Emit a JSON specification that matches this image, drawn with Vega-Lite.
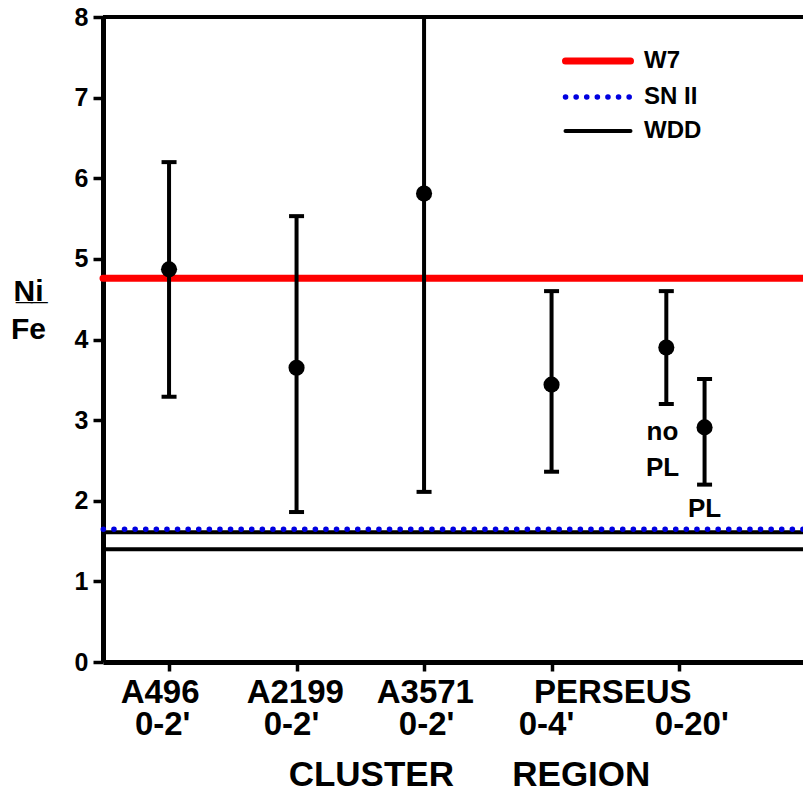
{
  "$schema": "https://vega.github.io/schema/vega-lite/v6.json",
  "width": 700,
  "height": 645,
  "autosize": {"type": "none"},
  "padding": {"left": 103, "top": 17, "right": 0, "bottom": 129},
  "background": "white",
  "config": {
    "view": {"stroke": null},
    "font": "Liberation Sans",
    "axis": {
      "domainColor": "black",
      "domainWidth": 5,
      "tickColor": "black",
      "tickWidth": 3.5,
      "tickSize": 10,
      "grid": false,
      "labelFont": "Liberation Sans",
      "labelFontWeight": "bold",
      "labelColor": "black",
      "titleFont": "Liberation Sans",
      "titleFontWeight": "bold",
      "titleColor": "black"
    }
  },
  "datasets": {
    "points": [
      {"region": "A496 0-2'", "pos": 1.0, "ratio": 4.87, "lo": 3.29, "hi": 6.2},
      {"region": "A2199 0-2'", "pos": 2.0, "ratio": 3.65, "lo": 1.86, "hi": 5.53},
      {"region": "A3571 0-2'", "pos": 3.0, "ratio": 5.81, "lo": 2.11, "hi": 8.6},
      {"region": "Perseus 0-4'", "pos": 4.0, "ratio": 3.44, "lo": 2.36, "hi": 4.6},
      {"region": "Perseus 0-20' no PL", "pos": 4.9, "ratio": 3.9, "lo": 3.2, "hi": 4.6},
      {"region": "Perseus 0-20' PL", "pos": 5.2, "ratio": 2.91, "lo": 2.2, "hi": 3.51}
    ],
    "models": [
      {"model": "W7", "ratio": 4.76},
      {"model": "WDD", "ratio": 1.4},
      {"model": "WDD", "ratio": 1.61},
      {"model": "SN II", "ratio": 1.645}
    ],
    "axislabels": [
      {"text": "A496", "pos": 0.93, "row": -0.51},
      {"text": "0-2'", "pos": 0.95, "row": -0.9},
      {"text": "A2199", "pos": 1.99, "row": -0.51},
      {"text": "0-2'", "pos": 1.96, "row": -0.9},
      {"text": "A3571", "pos": 3.01, "row": -0.51},
      {"text": "0-2'", "pos": 3.02, "row": -0.9},
      {"text": "PERSEUS", "pos": 4.48, "row": -0.51},
      {"text": "0-4'", "pos": 3.96, "row": -0.9},
      {"text": "0-20'", "pos": 5.1, "row": -0.9}
    ],
    "notes": [
      {"text": "no", "pos": 4.87, "ratio": 2.75},
      {"text": "PL", "pos": 4.87, "ratio": 2.31},
      {"text": "PL", "pos": 5.2, "ratio": 1.8}
    ]
  },
  "layer": [
    {
      "data": {"name": "models"},
      "mark": {"type": "rule", "strokeCap": "round"},
      "encoding": {
        "y": {
          "field": "ratio", "type": "quantitative",
          "scale": {"domain": [0, 8], "nice": false, "zero": true},
          "axis": {
            "values": [0, 1, 2, 3, 4, 5, 6, 7, 8],
            "format": "d",
            "labelFontSize": 25,
            "labelPadding": 5,
            "title": ["N\u0332i\u0332", "Fe"],
            "titleFontSize": 30,
            "titleAngle": 0,
            "titleAlign": "center",
            "titleBaseline": "alphabetic",
            "titleLineHeight": 38,
            "titleX": -75,
            "titleY": 283
          }
        },
        "color": {
          "field": "model", "type": "nominal",
          "scale": {"domain": ["W7", "SN II", "WDD"], "range": ["#ff0000", "#0000e0", "#000000"]},
          "legend": {
            "title": null,
            "orient": "none",
            "legendX": 483,
            "legendY": 32,
            "symbolType": "M-5,0H5",
            "symbolSize": 169,
            "labelFontSize": 24,
            "labelFontWeight": "bold",
            "labelColor": "black",
            "labelOffset": 34,
            "rowPadding": 10,
            "padding": 0,
            "encode": {"symbols": {"update": {"strokeCap": {"value": "round"}}}}
          }
        },
        "strokeDash": {
          "field": "model", "type": "nominal",
          "scale": {"domain": ["W7", "SN II", "WDD"], "range": [[1, 0], [0.1, 10.5], [1, 0]]},
          "legend": {"title": null}
        },
        "strokeWidth": {
          "field": "model", "type": "nominal",
          "scale": {"domain": ["W7", "SN II", "WDD"], "range": [7, 4, 3]},
          "legend": {"title": null}
        }
      }
    },
    {
      "data": {"values": [{"top": 8}]},
      "mark": {"type": "rule", "color": "black", "strokeWidth": 4},
      "encoding": {"y": {"field": "top", "type": "quantitative"}}
    },
    {
      "data": {"name": "points"},
      "mark": {"type": "rule", "color": "black", "strokeWidth": 4, "clip": true},
      "encoding": {
        "x": {
          "field": "pos", "type": "quantitative",
          "scale": {"domain": [0.482, 5.972], "nice": false, "zero": false},
          "axis": {
            "values": [1, 2, 3, 4, 5],
            "labels": false,
            "tickSize": 9,
            "title": "CLUSTER\u00a0\u00a0\u00a0\u00a0\u00a0\u00a0REGION",
            "titleFontSize": 35,
            "titleBaseline": "alphabetic",
            "titleX": 366,
            "titleY": 123
          }
        },
        "y": {"field": "lo", "type": "quantitative"},
        "y2": {"field": "hi"}
      }
    },
    {
      "data": {"name": "points"},
      "transform": [{"fold": ["lo", "hi"], "as": ["end", "val"]}],
      "mark": {"type": "tick", "color": "black", "opacity": 1, "orient": "horizontal", "size": 15, "thickness": 4, "clip": true},
      "encoding": {
        "x": {"field": "pos", "type": "quantitative"},
        "y": {"field": "val", "type": "quantitative"}
      }
    },
    {
      "data": {"name": "points"},
      "mark": {"type": "circle", "color": "black", "opacity": 1, "size": 260},
      "encoding": {
        "x": {"field": "pos", "type": "quantitative"},
        "y": {"field": "ratio", "type": "quantitative"}
      }
    },
    {
      "data": {"name": "axislabels"},
      "mark": {"type": "text", "font": "Liberation Sans", "fontWeight": "bold", "fontSize": 33, "color": "black", "align": "center", "baseline": "alphabetic"},
      "encoding": {
        "x": {"field": "pos", "type": "quantitative"},
        "y": {"field": "row", "type": "quantitative"},
        "text": {"field": "text"}
      }
    },
    {
      "data": {"name": "notes"},
      "mark": {"type": "text", "font": "Liberation Sans", "fontWeight": "bold", "fontSize": 26, "color": "black", "align": "center", "baseline": "alphabetic"},
      "encoding": {
        "x": {"field": "pos", "type": "quantitative"},
        "y": {"field": "ratio", "type": "quantitative"},
        "text": {"field": "text"}
      }
    }
  ]
}
